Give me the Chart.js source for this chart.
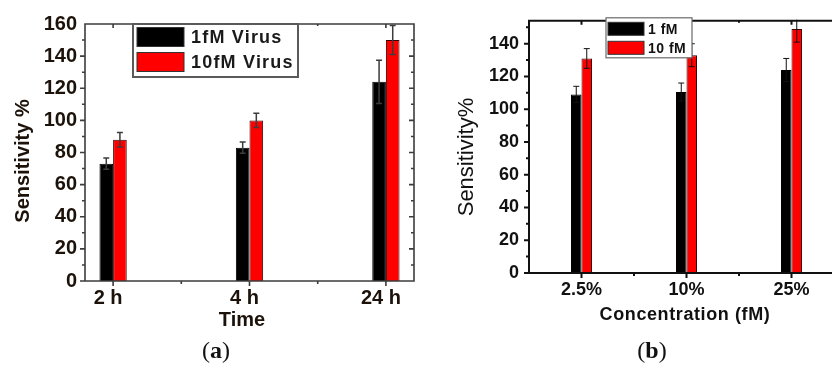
<!DOCTYPE html>
<html>
  <head>
    <title>Sensitivity by time and concentration</title>
    <script src="https://cdn.jsdelivr.net/npm/chart.js"></script>
    <style>
      body {
        margin: 0;
        background: #ffffff;
        width: 832px;
        height: 367px;
        overflow: hidden;
        position: relative;
      }
      canvas {
        position: absolute;
        top: 0;
      }
      #timeChart { left: 0; }
      #concChart { left: 420px; }
      .panel-tag {
        position: absolute;
        top: 337px;
        font-family: "Liberation Serif", "DejaVu Serif", serif;
        font-size: 24px;
        color: #111;
        transform: translateX(-50%);
      }
    </style>
  </head>
  <body>
    <canvas id="timeChart" width="430" height="340"></canvas>
    <canvas id="concChart" width="440" height="340"></canvas>
    <div class="panel-tag" style="left: 216px">(<b>a</b>)</div>
    <div class="panel-tag" style="left: 652px">(<b>b</b>)</div>

    <script>
      // (a) sensitivity over incubation time
      const timeLabels = ["2 h", "4 h", "24 h"];
      const virus1fM = [73, 83, 124];
      const virus1fMErr = [3.5, 3.5, 13.5];
      const virus10fM = [88, 100, 150];
      const virus10fMErr = [4.5, 4.5, 9];
      const timeYTicks = [0, 20, 40, 60, 80, 100, 120, 140, 160];

      // (b) sensitivity by concentration
      const concLabels = ["2.5%", "10%", "25%"];
      const conc1fM = [109, 110.5, 124];
      const conc1fMErr = [5, 5.5, 7];
      const conc10fM = [131, 133, 149];
      const conc10fMErr = [6, 7, 8];
      const concYTicks = [0, 20, 40, 60, 80, 100, 120, 140];

      const SANS = '"Liberation Sans", Arial, sans-serif';

      // box around the plot with Origin-style tick marks
      function framePlugin(color, width) {
        return {
          id: "frame",
          afterDatasetsDraw(chart) {
            const { ctx, chartArea: a, scales: { x, y } } = chart;
            const seg = (x1, y1, x2, y2) => { ctx.moveTo(x1, y1); ctx.lineTo(x2, y2); };
            ctx.save();
            ctx.strokeStyle = color;
            ctx.lineWidth = width;
            ctx.beginPath();
            ctx.rect(a.left, a.top, a.right - a.left, a.bottom - a.top);
            const step = y.ticks[1].value - y.ticks[0].value;
            y.ticks.forEach((t) => {
              [t.value, t.value + step / 2].forEach((v, k) => {
                const py = y.getPixelForValue(v);
                if (py < a.top + 1) return;
                const len = k ? 3 : 5;
                seg(a.left - len, py, a.left, py);
                seg(a.right - len, py, a.right, py);
              });
            });
            const n = chart.data.datasets[0].data.length;
            for (let i = 0; i < n; i++) {
              [i, i + 0.5].forEach((v, k) => {
                const px = x.getPixelForValue(v);
                if (px <= a.left + 1 || px >= a.right - 1) return;
                const len = k ? 3 : 5;
                seg(px, a.bottom, px, a.bottom + len);
                seg(px, a.top, px, a.top + len - 1);
              });
            }
            ctx.stroke();
            ctx.restore();
          },
        };
      }

      // symmetric error bars taken from each dataset's "errors" array
      function errorBarPlugin(color, width, cap) {
        return {
          id: "errorBars",
          afterDatasetsDraw(chart) {
            const { ctx, chartArea: a, scales: { y } } = chart;
            ctx.save();
            ctx.beginPath();
            ctx.rect(a.left, a.top - 1, a.right - a.left, a.bottom - a.top + 1);
            ctx.clip();
            ctx.strokeStyle = color;
            ctx.lineWidth = width;
            ctx.beginPath();
            chart.data.datasets.forEach((ds, d) => {
              chart.getDatasetMeta(d).data.forEach((bar, i) => {
                const raw = ds.data[i];
                const v = typeof raw === "object" ? raw.y : raw;
                const e = ds.errors[i];
                const top = y.getPixelForValue(v + e);
                const bot = y.getPixelForValue(v - e);
                ctx.moveTo(bar.x, top); ctx.lineTo(bar.x, bot);
                ctx.moveTo(bar.x - cap, top); ctx.lineTo(bar.x + cap, top);
                ctx.moveTo(bar.x - cap, bot); ctx.lineTo(bar.x + cap, bot);
              });
            });
            ctx.stroke();
            ctx.restore();
          },
        };
      }

      // framed legend sitting inside the plot, drawn over the bars
      function boxLegendPlugin(o) {
        return {
          id: "boxLegend",
          afterDraw(chart) {
            const { ctx, chartArea: a } = chart;
            const bx = a.left + o.left, by = a.top + o.top;
            ctx.save();
            ctx.fillStyle = "#ffffff";
            ctx.fillRect(bx, by, o.width, o.height);
            ctx.strokeStyle = o.borderColor;
            ctx.lineWidth = o.borderWidth;
            ctx.strokeRect(bx, by, o.width, o.height);
            ctx.font = o.font;
            ctx.letterSpacing = o.spacing;
            ctx.textAlign = "left";
            ctx.textBaseline = "middle";
            chart.data.datasets.forEach((ds, i) => {
              const cy = by + o.firstRow + i * o.rowStep;
              ctx.fillStyle = ds.backgroundColor;
              ctx.fillRect(bx + o.swatchX, cy - o.swatchH / 2, o.swatchW, o.swatchH);
              ctx.strokeStyle = "#333";
              ctx.lineWidth = 1;
              ctx.strokeRect(bx + o.swatchX, cy - o.swatchH / 2, o.swatchW, o.swatchH);
              ctx.fillStyle = o.color;
              ctx.fillText(ds.label, bx + o.textX, cy + 1);
            });
            ctx.restore();
          },
        };
      }

      // axis titles placed by hand
      function axisTitlePlugin(items) {
        return {
          id: "axisTitles",
          afterDraw(chart) {
            const ctx = chart.ctx;
            items.forEach((t) => {
              ctx.save();
              ctx.translate(t.x, t.y);
              if (t.vertical) ctx.rotate(-Math.PI / 2);
              ctx.font = t.font;
              ctx.letterSpacing = t.spacing || "0px";
              ctx.fillStyle = t.color;
              ctx.textAlign = "center";
              ctx.textBaseline = "middle";
              ctx.fillText(t.text, 0, 0);
              ctx.restore();
            });
          },
        };
      }

      const baseOptions = {
        responsive: false,
        animation: false,
        plugins: { legend: { display: false }, tooltip: { enabled: false } },
      };

      // (a)
      const timeInk = "#1c1209";
      new Chart(document.getElementById("timeChart"), {
        type: "bar",
        data: {
          datasets: [
            {
              label: "1fM Virus",
              data: virus1fM.map((v, i) => ({ x: i, y: v })),
              errors: virus1fMErr,
              backgroundColor: "#000000",
              borderColor: "#000000",
              borderWidth: 1,
            },
            {
              label: "10fM Virus",
              data: virus10fM.map((v, i) => ({ x: i, y: v })),
              errors: virus10fMErr,
              backgroundColor: "#ff0000",
              borderColor: "#3a0000",
              borderWidth: 1,
            },
          ],
        },
        options: {
          ...baseOptions,
          categoryPercentage: 0.2,
          barPercentage: 1,
          layout: { padding: { top: 24, right: 16, left: 0, bottom: 0 } },
          scales: {
            x: {
              type: "linear",
              offset: false,
              min: -0.206,
              max: 2.206,
              grid: { display: false, drawTicks: false, offset: false },
              border: { display: false },
              afterBuildTicks: (s) => { s.ticks = timeLabels.map((_, i) => ({ value: i })); },
              afterFit: (s) => { s.height = 59; },
              ticks: {
                callback: (v) => timeLabels[v],
                padding: 5,
                labelOffset: -5,
                maxRotation: 0,
                color: timeInk,
                font: { family: SANS, size: 20, weight: "bold" },
              },
            },
            y: {
              min: 0,
              max: 160,
              grid: { display: false, drawTicks: false },
              border: { display: false },
              afterBuildTicks: (s) => { s.ticks = timeYTicks.map((v) => ({ value: v })); },
              afterFit: (s) => { s.width = 85; },
              ticks: {
                padding: 8,
                color: timeInk,
                font: { family: SANS, size: 20, weight: "bold" },
              },
            },
          },
        },
        plugins: [
          framePlugin("#3c3c3c", 1.6),
          errorBarPlugin("#3c3c3c", 1.5, 3),
          boxLegendPlugin({
            left: 48, top: 0, width: 165, height: 53,
            borderColor: "#5a5a5a", borderWidth: 2,
            firstRow: 13, rowStep: 25,
            swatchX: 4, swatchW: 47, swatchH: 19, textX: 58,
            font: `bold 18px ${SANS}`, spacing: "1.2px", color: "#1a1a1a",
          }),
          axisTitlePlugin([
            { text: "Sensitivity %", x: 23, y: 161, vertical: true, font: `bold 20px ${SANS}`, color: timeInk },
            { text: "Time", x: 242, y: 320, font: `bold 20px ${SANS}`, color: timeInk },
          ]),
        ],
      });

      // (b)
      const concInk = "#111111";
      new Chart(document.getElementById("concChart"), {
        type: "bar",
        data: {
          labels: concLabels,
          datasets: [
            {
              label: "1 fM",
              data: conc1fM,
              errors: conc1fMErr,
              backgroundColor: "#000000",
              borderColor: "#000000",
              borderWidth: 1,
            },
            {
              label: "10 fM",
              data: conc10fM,
              errors: conc10fMErr,
              backgroundColor: "#ff0000",
              borderColor: "#3a0000",
              borderWidth: 1,
            },
          ],
        },
        options: {
          ...baseOptions,
          categoryPercentage: 0.2,
          barPercentage: 1,
          layout: { padding: { top: 14, right: 16, left: 0, bottom: 0 } },
          scales: {
            x: {
              grid: { display: false, drawTicks: false },
              border: { display: false },
              afterFit: (s) => { s.height = 67; },
              ticks: {
                padding: 6,
                maxRotation: 0,
                color: concInk,
                font: { family: SANS, size: 18, weight: "bold" },
              },
            },
            y: {
              min: 0,
              max: 154,
              grid: { display: false, drawTicks: false },
              border: { display: false },
              afterBuildTicks: (s) => { s.ticks = concYTicks.map((v) => ({ value: v })); },
              afterFit: (s) => { s.width = 109; },
              ticks: {
                padding: 10,
                color: concInk,
                font: { family: SANS, size: 18, weight: "bold" },
              },
            },
          },
        },
        plugins: [
          framePlugin("#111111", 2),
          errorBarPlugin("#111111", 1, 3),
          boxLegendPlugin({
            left: 77, top: -3, width: 86, height: 40,
            borderColor: "#6a6a6a", borderWidth: 1.2,
            firstRow: 11, rowStep: 19,
            swatchX: 2, swatchW: 36, swatchH: 13, textX: 42,
            font: `bold 14px ${SANS}`, spacing: "0.5px", color: "#111",
          }),
          axisTitlePlugin([
            { text: "Sensitivity%", x: 47, y: 157, vertical: true, font: `22px ${SANS}`, color: concInk },
            { text: "Concentration (fM)", x: 265, y: 315, font: `bold 18px ${SANS}`, spacing: "0.6px", color: concInk },
          ]),
        ],
      });
    </script>
  </body>
</html>
